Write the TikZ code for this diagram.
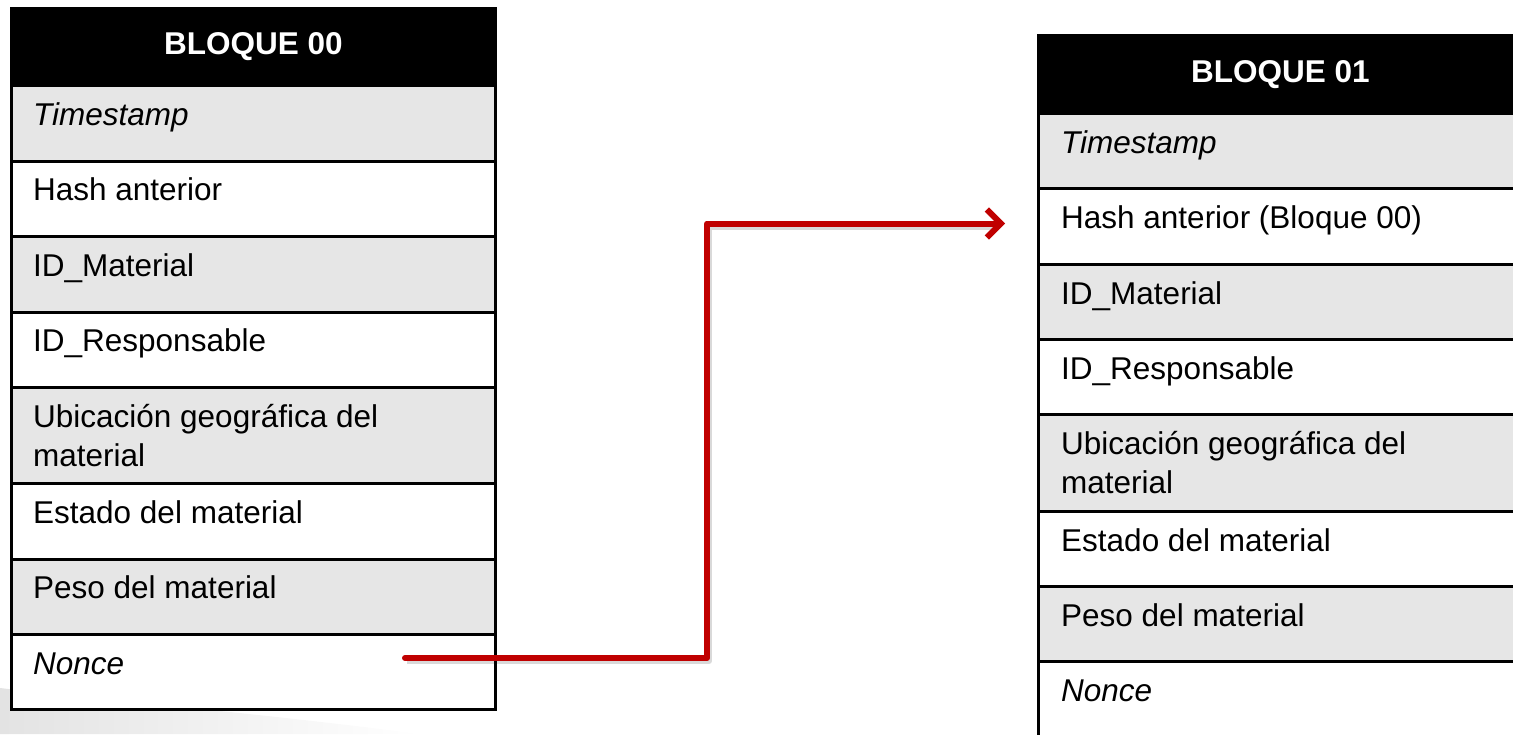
\documentclass[tikz,border=0pt]{standalone}
\usepackage{fontspec}
\setmainfont{Liberation Sans}
\usetikzlibrary{arrows.meta,calc}
\definecolor{rowgray}{HTML}{E6E6E6}
\definecolor{arrowred}{HTML}{C00000}
\tikzset{
  cell/.style={draw=black, line width=3pt, rectangle, anchor=north west, inner sep=0pt, minimum width=484pt},
  headcell/.style={cell, fill=black},
  txt/.style={anchor=base west, inner sep=0pt, font=\fontsize{31.5}{39}\selectfont, text=black},
  htxt/.style={inner sep=0pt, text=white, font=\fontsize{31.5}{39}\selectfont\bfseries},
  link/.style={draw=arrowred, line width=6pt, line cap=round, line join=round, -{Straight Barb[length=14pt,width=28pt]}},
  linkshadow/.style={draw=black, opacity=0.15, line width=6pt, line join=round}
}
\begin{document}
\begin{tikzpicture}[x=1pt,y=-1pt]
\useasboundingbox (0,0) rectangle (1513,734);
\clip (0,0) rectangle (1513,734);
% background swoosh
\shade[left color=gray!22, right color=white] (0,688) -- (0,734) -- (420,734) .. controls (250,712) and (100,700) .. (0,688) -- cycle;

% ---- left block ----
\node[headcell, minimum height=77pt] (L0) at (10,7) {};
\node[htxt] (L0t) at (L0.center) {BLOQUE 00};
\foreach \i/\t/\h/\f/\s in {
  1/84/75.5/rowgray/{\textit{Timestamp}},
  2/159.5/75.5/white/{Hash anterior},
  3/235/75.5/rowgray/{ID\_Material},
  4/310.5/75.5/white/{ID\_Responsable},
  5/386/96/rowgray/{\parbox[t]{440pt}{Ubicación geográfica del\\material}},
  6/482/75.5/white/{Estado del material},
  7/557.5/75.5/rowgray/{Peso del material},
  8/633/75/white/{\textit{Nonce}}}{
  \node[cell, fill=\f, minimum height=\h pt] (L\i) at (10,\t) {};
  \node[txt] (L\i t) at ($(L\i.north west)+(23,41)$) {\s};
}

% ---- right block ----
\node[headcell, minimum height=78pt] (R0) at (1037,34) {};
\node[htxt] (R0t) at (R0.center) {BLOQUE 01};
\foreach \i/\t/\h/\f/\s in {
  1/112/75/rowgray/{\textit{Timestamp}},
  2/187/76/white/{Hash anterior (Bloque 00)},
  3/263/75/rowgray/{ID\_Material},
  4/338/75/white/{ID\_Responsable},
  5/413/97/rowgray/{\parbox[t]{440pt}{Ubicación geográfica del\\material}},
  6/510/75/white/{Estado del material},
  7/585/75/rowgray/{Peso del material},
  8/660/76/white/{\textit{Nonce}}}{
  \node[cell, fill=\f, minimum height=\h pt] (R\i) at (1037,\t) {};
  \node[txt] (R\i t) at ($(R\i.north west)+(24,41)$) {\s};
}

% ---- connector ----
\coordinate (s) at ($(L8.north west)+(395,25)$);
\coordinate (e) at ($(R2.west)+(-32,-3)$);
\coordinate (m) at (707,0);
\draw[linkshadow] ($(s)+(2,3)$) -| ($(m|-e)+(2,3)$) -- ($(e)+(-10,3)$);
\draw[link] (s) -| (m|-e) -- (e);
\end{tikzpicture}
\end{document}
